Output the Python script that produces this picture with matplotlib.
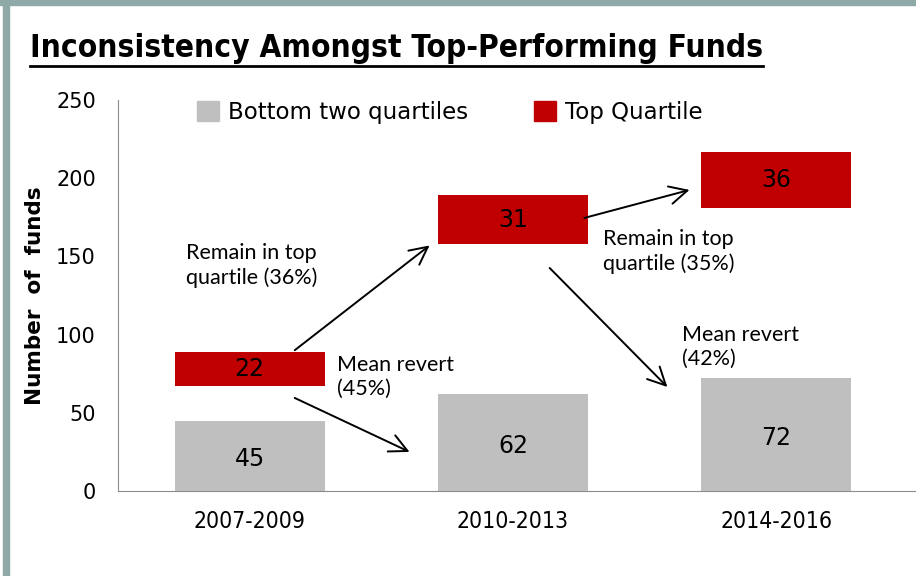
import matplotlib.pyplot as plt
from matplotlib.patches import Rectangle, Patch
from matplotlib.lines import Line2D

# Data
periods = ['2007-2009', '2010-2013', '2014-2016']
bottom_two = [45, 62, 72]
top_quartile = [22, 31, 36]
gap = [22, 96, 109]  # invisible spacer between the stacks

gray = '#bfbfbf'
red = '#c00000'
frame_col = '#8fa8a8'

fig = plt.figure(figsize=(9.16, 5.76), dpi=100)
fig.patch.set_facecolor('white')

# frame strips along the top and left edges
fig.patches.append(Rectangle((0, 1 - 5 / 576), 1, 5 / 576, transform=fig.transFigure,
                             color=frame_col, zorder=0))
fig.patches.append(Rectangle((3 / 916, 0), 6 / 916, 1, transform=fig.transFigure,
                             color=frame_col, zorder=0))

ax = fig.add_axes([118 / 916, 85 / 576, 798 / 916, 391 / 576])

x = range(len(periods))
width = 0.57
ax.bar(x, bottom_two, width, color=gray)
ax.bar(x, gap, width, bottom=bottom_two, color='none')
red_bottom = [b + g for b, g in zip(bottom_two, gap)]
ax.bar(x, top_quartile, width, bottom=red_bottom, color=red)

for i in x:
    ax.text(i, bottom_two[i] / 2 - 2, str(bottom_two[i]), ha='center', va='center',
            fontsize=17, color='black')
    ax.text(i, red_bottom[i] + top_quartile[i] / 2, str(top_quartile[i]), ha='center',
            va='center', fontsize=17, color='black')

ax.set_xlim(-0.5, 2.53)
ax.set_ylim(0, 250)
ax.set_yticks([0, 50, 100, 150, 200, 250])
ax.set_xticks(list(x))
ax.set_xticklabels(periods, fontsize=16.5, fontstretch='condensed')
ax.tick_params(axis='both', length=0, colors='black')
ax.tick_params(axis='y', pad=16, labelsize=15)
ax.tick_params(axis='x', pad=14)
for s in ['top', 'right']:
    ax.spines[s].set_visible(False)
ax.spines['left'].set_color('#8c8c8c')
ax.spines['bottom'].set_color('#8c8c8c')
ax.set_ylabel('Number  of  funds', fontsize=15.5, fontweight='bold', labelpad=8)

# arrows between periods
arrow_kw = dict(arrowstyle='->', color='black', lw=1.4, mutation_scale=32,
                shrinkA=0, shrinkB=0)
ax.annotate('', xy=(0.683, 157), xytext=(0.171, 90), arrowprops=arrow_kw)
ax.annotate('', xy=(0.607, 25), xytext=(0.171, 59.5), arrowprops=arrow_kw)
ax.annotate('', xy=(1.670, 192.5), xytext=(1.271, 174.6), arrowprops=arrow_kw)
ax.annotate('', xy=(1.586, 66.5), xytext=(1.139, 142.6), arrowprops=arrow_kw)

note_kw = dict(fontsize=15.5, family='Lato', va='center', ha='left', linespacing=1.25)
ax.text(-0.24, 144, 'Remain in top\nquartile (36%)', **note_kw)
ax.text(0.33, 73, 'Mean revert\n(45%)', **note_kw)
ax.text(1.34, 153, 'Remain in top\nquartile (35%)', **note_kw)
ax.text(1.643, 92, 'Mean revert\n(42%)', **note_kw)

handles = [Patch(color=gray), Patch(color=red)]
ax.legend(handles, ['Bottom two quartiles', 'Top Quartile'], loc='upper left',
          bbox_to_anchor=(0.073, 1.05), ncol=2, frameon=False, fontsize=16.5,
          handlelength=0.95, handleheight=0.95, handletextpad=0.4, columnspacing=2.9)

# underlined title
title = fig.text(30 / 916, 1 - 48 / 576, 'Inconsistency Amongst Top-Performing Funds',
                 fontsize=22.7, fontweight='bold', fontstretch='condensed',
                 va='center', ha='left')
fig.canvas.draw()
bb = title.get_window_extent().transformed(fig.transFigure.inverted())
fig.add_artist(Line2D([bb.x0, bb.x1], [bb.y0 - 0.004, bb.y0 - 0.004],
                      transform=fig.transFigure, color='black', lw=2))

fig.savefig('out.png', dpi=100)
